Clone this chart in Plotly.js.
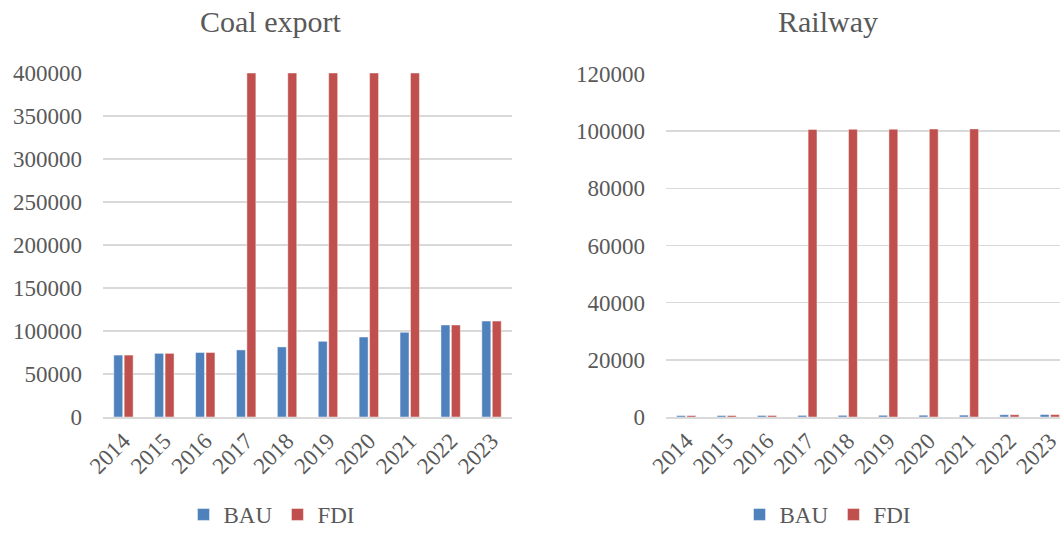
<!DOCTYPE html>
<html>
<head>
<meta charset="utf-8">
<script src="https://cdn.plot.ly/plotly-3.0.1.min.js"></script>
<style>
html,body{margin:0;padding:0;overflow:hidden;background:#fff;width:1060px;height:536px;}
#wrap{width:1060px;height:536px;overflow:hidden;position:relative;}
#chart{width:1072px;height:536px;position:absolute;left:0;top:0;}
</style>
</head>
<body>
<div id="wrap"><div id="chart"></div></div>
<script>
const years = ['2014','2015','2016','2017','2018','2019','2020','2021','2022','2023'];
const coalBAU = [72000, 74000, 75000, 78000, 81500, 88000, 93000, 98500, 107000, 111500];
const coalFDI = [72000, 74000, 75000, 400000, 400000, 400000, 400000, 400000, 107000, 111500];
const railBAU = [500, 520, 540, 560, 580, 600, 630, 660, 800, 850];
const railFDI = [500, 520, 540, 100600, 100650, 100700, 100750, 100800, 800, 850];
const seriesNames = ['BAU', 'FDI'];
const colors = ['#4F81BD', '#C0504D'];

const W = 1072, H = 536;
const font = {family: 'Liberation Serif, Times New Roman, serif', color: '#595959', size: 23};
const edge = {color: 'rgba(255,255,255,0.45)', width: 1};

const traces = [
  {type:'bar', x: years, y: coalBAU, name: seriesNames[0], marker:{color: colors[0], line: edge}, xaxis:'x', yaxis:'y', legend:'legend'},
  {type:'bar', x: years, y: coalFDI, name: seriesNames[1], marker:{color: colors[1], line: edge}, xaxis:'x', yaxis:'y', legend:'legend'},
  {type:'bar', x: years, y: railBAU, name: seriesNames[0], marker:{color: colors[0], line: edge}, xaxis:'x2', yaxis:'y2', legend:'legend2'},
  {type:'bar', x: years, y: railFDI, name: seriesNames[1], marker:{color: colors[1], line: edge}, xaxis:'x2', yaxis:'y2', legend:'legend2'}
];

const yDom1 = [1 - 417/H, 1 - 73/H];
const yDom2 = [1 - 417/H, 1 - 74/H];
const xCommon = {type:'category', tickangle:-45, showgrid:false, zeroline:false, showline:true, linecolor:'#D9D9D9', linewidth:1.5, ticks:'', tickfont: font, fixedrange:true};
const yCommon = {showgrid:true, gridcolor:'#D9D9D9', gridwidth:1.5, zeroline:false, showline:false, ticks:'', tickfont: font, tickformat:'d', ticklabelstandoff: 20, fixedrange:true};
const legFont = Object.assign({}, font, {size:23});

const layout = {
  width: W, height: H,
  margin: {l:0, r:0, t:0, b:0},
  paper_bgcolor:'#fff', plot_bgcolor:'#fff',
  font: font,
  barmode:'group', bargap:0.49, bargroupgap:0.14,
  xaxis: Object.assign({}, xCommon, {domain:[103/W, 512/W], anchor:'y'}),
  yaxis: Object.assign({}, yCommon, {domain: yDom1, range:[0, 400000], dtick:50000, anchor:'x'}),
  xaxis2: Object.assign({}, xCommon, {domain:[666/W, 1070/W], anchor:'y2'}),
  yaxis2: Object.assign({}, yCommon, {domain: yDom2, range:[0, 120000], dtick:20000, anchor:'x2'}),
  legend: {orientation:'h', x: 272/W, xanchor:'center', y: 0, yanchor:'bottom', font: legFont, itemwidth:30, bgcolor:'rgba(0,0,0,0)'},
  legend2: {orientation:'h', x: 828/W, xanchor:'center', y: 0, yanchor:'bottom', font: legFont, itemwidth:30, bgcolor:'rgba(0,0,0,0)'},
  annotations: [
    {text:'Coal export', xref:'paper', yref:'paper', x: 270/W, y: 1 - 22/H, xanchor:'center', yanchor:'middle', showarrow:false, font:{family: font.family, color:'#595959', size:30}},
    {text:'Railway', xref:'paper', yref:'paper', x: 828/W, y: 1 - 22/H, xanchor:'center', yanchor:'middle', showarrow:false, font:{family: font.family, color:'#595959', size:30}}
  ]
};

Plotly.newPlot('chart', traces, layout, {displayModeBar:false, staticPlot:true});
</script>
</body>
</html>
